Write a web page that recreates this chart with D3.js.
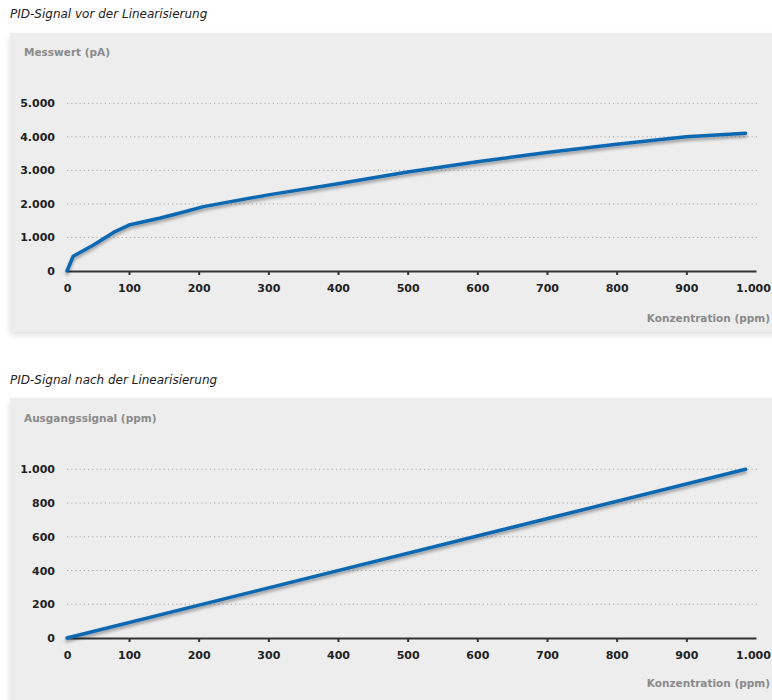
<!DOCTYPE html>
<html>
<head>
<meta charset="utf-8">
<script src="https://cdn.jsdelivr.net/npm/d3@7"></script>
<style>
  body { margin: 0; background: #fff; }
  svg { display: block; font-family: "DejaVu Sans", sans-serif; }
</style>
</head>
<body>
<div id="chart"></div>
<script>
// Konzentration (ppm) -> Messwert (pA)
const rawPpm = [0, 10, 42, 75, 100, 145, 173, 207, 300, 400, 500, 600, 700, 800, 900, 985];
const rawPa  = [0, 440, 770, 1150, 1370, 1580, 1730, 1920, 2270, 2600, 2950, 3260, 3530, 3780, 4000, 4110];

// after linearisation
const linPpm = [0, 985];
const linOut = [0, 1000];

const xTicks = [0, 100, 200, 300, 400, 500, 600, 700, 800, 900, 1000];
const yTicksTop = [0, 1000, 2000, 3000, 4000, 5000];
const yTicksBottom = [0, 200, 400, 600, 800, 1000];

const de = d3.formatLocale({ decimal: ",", thousands: ".", grouping: [3], currency: ["", " €"] });
const fmt = de.format(",");

const width = 772, height = 700;

const svg = d3.select("#chart").append("svg")
  .attr("width", width)
  .attr("height", height);

const defs = svg.append("defs");
const panelShadow = defs.append("filter").attr("id", "panelShadow")
  .attr("x", "-5%").attr("y", "-5%").attr("width", "110%").attr("height", "115%");
panelShadow.append("feDropShadow")
  .attr("dx", 0).attr("dy", 3).attr("stdDeviation", 3)
  .attr("flood-color", "#000").attr("flood-opacity", 0.12);

const lineShadow = defs.append("filter").attr("id", "lineShadow")
  .attr("x", "-5%").attr("y", "-20%").attr("width", "110%").attr("height", "140%");
lineShadow.append("feDropShadow")
  .attr("dx", 0).attr("dy", 2.5).attr("stdDeviation", 1.8)
  .attr("flood-color", "#000").attr("flood-opacity", 0.35);

// x position is squeezed between 0 and 100 in the original
const x = d3.scaleLinear().domain([0, 100, 1000]).range([67, 129, 756]);

function panel(cfg) {
  svg.append("text")
    .attr("x", 10).attr("y", cfg.titleY)
    .attr("font-size", 12).attr("font-style", "italic")
    .attr("fill", "#222")
    .text(cfg.title);

  svg.append("rect")
    .attr("x", 10).attr("y", cfg.top)
    .attr("width", 780).attr("height", cfg.bottom - cfg.top)
    .attr("fill", "#ededed")
    .attr("filter", "url(#panelShadow)");

  svg.append("text")
    .attr("x", 24).attr("y", cfg.labelY)
    .attr("font-size", 10.5).attr("font-weight", "bold")
    .attr("fill", "#8a8a8a")
    .text(cfg.yLabel);

  const y = d3.scaleLinear().domain(cfg.yDomain).range([cfg.y0, cfg.y1]);

  // gridlines
  svg.append("g")
    .selectAll("line")
    .data(cfg.yTicks.filter(d => d > 0))
    .join("line")
    .attr("x1", 67).attr("x2", 757)
    .attr("y1", d => y(d)).attr("y2", d => y(d))
    .attr("stroke", "#a8a8a8")
    .attr("stroke-width", 1)
    .attr("stroke-dasharray", "1.2,3");

  const yAxis = svg.append("g")
    .attr("transform", "translate(67,0)")
    .call(d3.axisLeft(y).tickValues(cfg.yTicks).tickFormat(fmt).tickSize(0).tickPadding(12));
  yAxis.select(".domain").remove();
  yAxis.selectAll("text")
    .attr("font-size", 11).attr("font-weight", "bold").attr("fill", "#222")
    .attr("font-family", "DejaVu Sans, sans-serif");

  const xAxis = svg.append("g")
    .attr("transform", `translate(0,${cfg.y0})`)
    .call(d3.axisBottom(x).tickValues(xTicks).tickFormat(fmt).tickSizeInner(4).tickSizeOuter(0).tickPadding(9));
  xAxis.select(".domain").attr("stroke", "#333").attr("stroke-width", 2);
  xAxis.selectAll(".tick line")
    .attr("stroke", "#333").attr("stroke-width", 2)
    .attr("display", d => (d === 0 || d === 1000) ? "none" : null);
  xAxis.selectAll("text")
    .attr("font-size", 11).attr("font-weight", "bold").attr("fill", "#222")
    .attr("font-family", "DejaVu Sans, sans-serif")
    .attr("dx", d => d === 1000 ? -3 : 0);

  svg.append("text")
    .attr("x", 770).attr("y", cfg.xLabelY)
    .attr("text-anchor", "end")
    .attr("font-size", 10.5).attr("font-weight", "bold")
    .attr("fill", "#8a8a8a")
    .text("Konzentration (ppm)");

  const line = d3.line()
    .x(d => x(d[0]))
    .y(d => y(d[1]));

  svg.append("path")
    .datum(d3.zip(cfg.xs, cfg.ys))
    .attr("fill", "none")
    .attr("stroke", "#0f68b2")
    .attr("stroke-width", 3.5)
    .attr("stroke-linecap", "round")
    .attr("stroke-linejoin", "round")
    .attr("filter", "url(#lineShadow)")
    .attr("d", line);
}

panel({
  title: "PID-Signal vor der Linearisierung",
  titleY: 18, top: 33, bottom: 332,
  yLabel: "Messwert (pA)", labelY: 56,
  yDomain: [0, 5000], y0: 271, y1: 103.3,
  yTicks: yTicksTop, xLabelY: 322,
  xs: rawPpm, ys: rawPa
});

panel({
  title: "PID-Signal nach der Linearisierung",
  titleY: 384, top: 398, bottom: 712,
  yLabel: "Ausgangssignal (ppm)", labelY: 422,
  yDomain: [0, 1000], y0: 638, y1: 469.3,
  yTicks: yTicksBottom, xLabelY: 687,
  xs: linPpm, ys: linOut
});
</script>
</body>
</html>
